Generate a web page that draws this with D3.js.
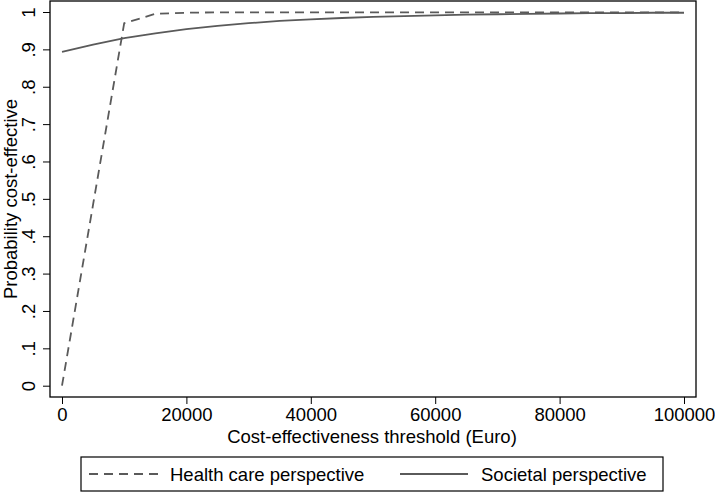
<!DOCTYPE html>
<html>
<head>
<meta charset="utf-8">
<script src="https://cdn.jsdelivr.net/npm/d3@7"></script>
<style>
  body { margin: 0; background: #fff; }
  text { font-family: "Liberation Sans", Arial, sans-serif; fill: #000; }
</style>
</head>
<body>
<div id="chart"></div>
<script>
// thresholds in Euro
var thresholds = [0, 5000, 10000, 15000, 20000, 25000, 30000, 35000, 40000, 45000, 50000,
                  55000, 60000, 65000, 70000, 75000, 80000, 85000, 90000, 95000, 100000];
var healthCare = [0, 0.485, 0.97, 0.995, 0.998, 0.999, 0.999, 0.999, 0.999, 0.999, 0.999,
                  0.999, 0.999, 0.999, 0.999, 0.999, 0.999, 0.999, 0.999, 0.999, 0.999];
var societal = [0.893, 0.913, 0.930, 0.943, 0.954, 0.963, 0.970, 0.976, 0.980, 0.984, 0.987,
                0.989, 0.991, 0.993, 0.994, 0.995, 0.996, 0.997, 0.997, 0.998, 0.998];
var xTicks = [0, 20000, 40000, 60000, 80000, 100000];
var yTicks = [0, .1, .2, .3, .4, .5, .6, .7, .8, .9, 1];
var yTickLabels = ["0", ".1", ".2", ".3", ".4", ".5", ".6", ".7", ".8", ".9", "1"];
var seriesNames = ["Health care perspective", "Societal perspective"];

var width = 715, height = 493;
var frame = {left: 50, right: 696, top: 1, bottom: 397};
var fs = "18.5px";

var svg = d3.select("#chart")
  .append("svg")
    .attr("width", width)
    .attr("height", height);

var x = d3.scaleLinear()
  .domain([0, 100000])
  .range([62, 684]);

var y = d3.scaleLinear()
  .domain([0, 1])
  .range([385.7, 12]);

// plot frame
svg.append("rect")
  .attr("x", frame.left)
  .attr("y", frame.top)
  .attr("width", frame.right - frame.left)
  .attr("height", frame.bottom - frame.top)
  .attr("fill", "none")
  .attr("stroke", "#000")
  .attr("stroke-width", 1.3);

// x axis
var xAxis = svg.append("g")
  .attr("transform", "translate(0," + frame.bottom + ")")
  .call(d3.axisBottom(x).tickValues(xTicks).tickSize(7).tickPadding(4).tickFormat(d3.format("d")));
xAxis.select(".domain").remove();
xAxis.selectAll("text").style("font-size", fs).style("font-family", "'Liberation Sans', Arial, sans-serif");
xAxis.selectAll("line").attr("stroke", "#000");

// y axis, labels rotated
var yAxis = svg.append("g")
  .attr("transform", "translate(" + frame.left + ",0)")
  .call(d3.axisLeft(y).tickValues(yTicks).tickSize(7).tickFormat(function(d, i) { return yTickLabels[i]; }));
yAxis.select(".domain").remove();
yAxis.selectAll("line").attr("stroke", "#000");
yAxis.selectAll("text")
  .attr("x", null).attr("dy", null)
  .attr("text-anchor", "middle")
  .attr("transform", "translate(-15,0) rotate(-90)")
  .style("font-size", fs)
  .style("font-family", "'Liberation Sans', Arial, sans-serif");

// axis titles
svg.append("text")
  .attr("text-anchor", "middle")
  .attr("x", 372)
  .attr("y", 443)
  .style("font-size", fs)
  .text("Cost-effectiveness threshold (Euro)");

svg.append("text")
  .attr("text-anchor", "middle")
  .attr("transform", "translate(16.5,199) rotate(-90)")
  .style("font-size", fs)
  .text("Probability cost-effective");

// lines
var line = function(vals) {
  return d3.line()
    .x(function(d, i) { return x(thresholds[i]); })
    .y(function(d) { return y(d); })(vals);
};

svg.append("path")
  .attr("d", line(healthCare))
  .attr("fill", "none")
  .attr("stroke", "#5a5a5a")
  .attr("stroke-width", 1.8)
  .attr("stroke-dasharray", "9,6");

svg.append("path")
  .attr("d", line(societal))
  .attr("fill", "none")
  .attr("stroke", "#5a5a5a")
  .attr("stroke-width", 1.8);

// legend
var legend = svg.append("g");
legend.append("rect")
  .attr("x", 81).attr("y", 457)
  .attr("width", 582).attr("height", 34)
  .attr("fill", "#fff")
  .attr("stroke", "#000")
  .attr("stroke-width", 1.2);

var legendItems = [
  {x0: 89, x1: 158, tx: 170, dash: "9,6"},
  {x0: 400, x1: 468, tx: 481, dash: null}
];
legendItems.forEach(function(it, i) {
  legend.append("line")
    .attr("x1", it.x0).attr("x2", it.x1)
    .attr("y1", 474).attr("y2", 474)
    .attr("stroke", "#5a5a5a")
    .attr("stroke-width", 1.8)
    .attr("stroke-dasharray", it.dash);
  legend.append("text")
    .attr("x", it.tx).attr("y", 480.5)
    .style("font-size", fs)
    .text(seriesNames[i]);
});
</script>
</body>
</html>
